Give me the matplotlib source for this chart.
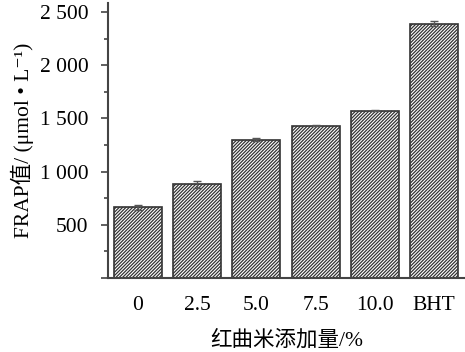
import matplotlib
matplotlib.use("Agg")
import matplotlib.pyplot as plt
from matplotlib.ticker import MultipleLocator, FuncFormatter

# data
categories = ["0", "2.5", "5.0", "7.5", "10.0", "BHT"]
frap = [664, 880, 1302, 1432, 1574, 2391]
frap_err = [25, 30, 10, 5, 4, 25]

plt.rcParams['font.family'] = ['Liberation Serif', 'Noto Sans CJK SC', 'DejaVu Sans']
plt.rcParams['hatch.color'] = '#333333'
plt.rcParams['hatch.linewidth'] = 0.9

fig = plt.figure(figsize=(4.65, 3.52), dpi=100)
ax = fig.add_axes([0.232, 0.21, 0.768, 0.781])

x = range(len(categories))
ax.bar(x, frap, width=0.81, color='white', edgecolor='#333333',
       linewidth=1.2, hatch='//////////',
       yerr=frap_err, error_kw=dict(ecolor='#555555', elinewidth=1, capsize=3, capthick=1))

ax.set_xlim(-0.51, 5.525)
ax.set_ylim(0, 2584)

ax.yaxis.set_major_locator(MultipleLocator(500))
ax.yaxis.set_minor_locator(MultipleLocator(250))
ax.yaxis.set_major_formatter(FuncFormatter(
    lambda v, p: "" if v == 0 else ("{:,}".format(int(v)).replace(",", " "))))

ax.set_xticks(list(x))
ax.set_xticklabels(categories)

for s in ['top', 'right']:
    ax.spines[s].set_visible(False)
for s in ['left', 'bottom']:
    ax.spines[s].set_color('#444444')
    ax.spines[s].set_linewidth(1.5)

ax.tick_params(axis='y', which='major', length=5, width=1.2, color='#444444',
               labelsize=15.5, pad=9)
ax.tick_params(axis='y', which='minor', length=3, width=1.2, color='#444444')
ax.tick_params(axis='x', length=0, labelsize=15.5, pad=13)

ax.set_xlabel("红曲米添加量/%", fontsize=15.5, labelpad=11)
ax.set_ylabel("FRAP值/ (μmol • L⁻¹)", fontsize=15.5, labelpad=4)

fig.savefig("out.png", dpi=100)
